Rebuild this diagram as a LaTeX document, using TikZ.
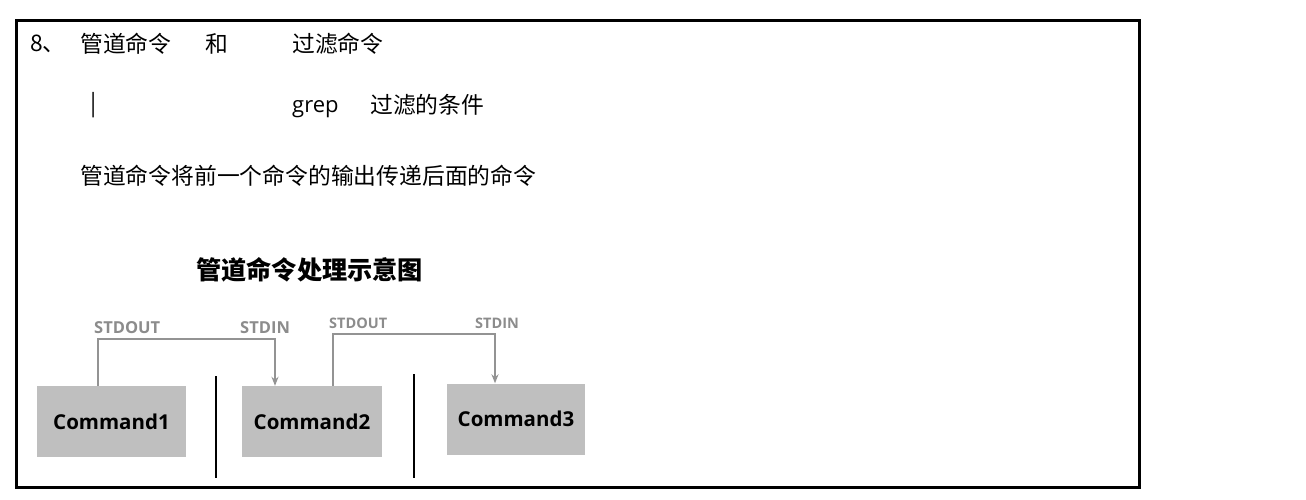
\documentclass[tikz,border=0pt]{standalone}
\usepackage{fontspec}
\setmainfont{Noto Sans CJK SC}
\newfontfamily\latinsans{Open Sans}
\usetikzlibrary{arrows.meta}
\begin{document}
\begin{tikzpicture}[x=1pt,y=-1pt,
  txt/.style={anchor=west,inner sep=0pt,font=\fontsize{22.8}{26}\selectfont},
  io/.style={anchor=west,inner sep=0pt,text=gray!90,font=\latinsans\fontsize{16.5}{19}\selectfont\bfseries},
  iosmall/.style={io,font=\latinsans\fontsize{14.5}{17}\selectfont\bfseries},
  cmd/.style={fill=black!25,draw=none,minimum height=71pt,inner sep=0pt,font=\latinsans\fontsize{20.5}{24}\selectfont\bfseries},
  pipe/.style={draw=gray!85,line width=1.5pt,-{Stealth[length=9pt,width=7pt]}},
  bar/.style={draw=black,line width=1.6pt}]
\useasboundingbox (0,0) rectangle (1306,499);
% outer frame
\draw[line width=3pt] (16,20) rectangle (1139,487);
% heading lines
\node[txt] (n8) at (30,44) {8、};
\node[txt] (gd) at (80,44) {管道命令};
\node[txt] (he) at (205,44) {和};
\node[txt] (gl) at (292,44) {过滤命令};
\node[txt] (vb) at (90,105) {|};
\node[txt,anchor=base west,font=\latinsans\fontsize{22}{26}\selectfont] (gr) at (292,112) {grep};
\node[txt] (tj) at (370,105) {过滤的条件};
\node[txt] (ds) at (80,176) {管道命令将前一个命令的输出传递后面的命令};
\node[txt,font=\fontsize{25.2}{29}\selectfont\bfseries] (tt) at (196,270) {管道命令处理示意图};
% command boxes
\node[cmd,minimum width=149pt] (c1) at (111.5,421.5) {Command1};
\node[cmd,minimum width=140pt] (c2) at (312,421.5) {Command2};
\node[cmd,minimum width=138pt] (c3) at (516,419) {Command3};
% stream labels
\node[io] (o1) at (94,328) {STDOUT};
\node[io] (i1) at (240,328) {STDIN};
\node[iosmall] (o2) at (329,323) {STDOUT};
\node[iosmall] (i2) at (475,323) {STDIN};
% pipes
\coordinate (p1) at (98,339);
\coordinate (p2) at (275,339);
\coordinate (q1) at (333,334);
\coordinate (q2) at (495,334);
\draw[pipe] (p1 |- c1.north) -- (p1) -- (p2) -- (p2 |- c2.north);
\draw[pipe] (q1 |- c2.north) -- (q1) -- (q2) -- (q2 |- c3.north);
% separators
\coordinate (s1a) at (216,376); \coordinate (s1b) at (216,478);
\coordinate (s2a) at (414,374); \coordinate (s2b) at (414,478);
\draw[bar] (s1a) -- (s1b);
\draw[bar] (s2a) -- (s2b);
\end{tikzpicture}
\end{document}
